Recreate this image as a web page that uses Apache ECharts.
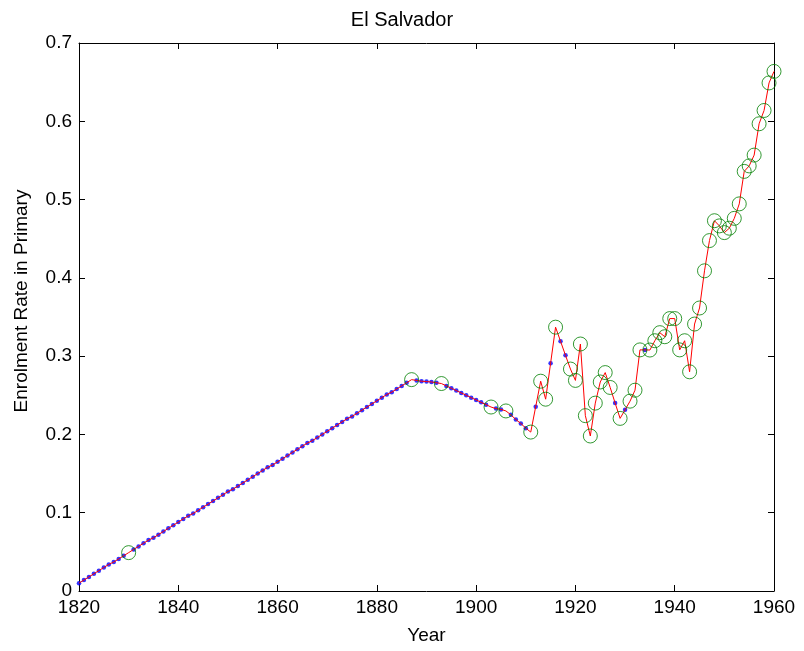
<!DOCTYPE html>
<html>
<head>
<meta charset="utf-8">
<script src="https://cdn.jsdelivr.net/npm/echarts@6/dist/echarts.min.js"></script>
<style>
html,body{margin:0;padding:0;background:#fff;}
#chart{width:804px;height:651px;}
</style>
</head>
<body>
<div id="chart"></div>
<script>
// Observed years (green circles)
var obsYears = [1830,1887,1893,1903,1906,1911,1913,1914,1916,1919,1920,1921,1922,1923,1924,1925,1926,1927,1929,1931,1932,1933,
  1935,1936,1937,1938,1939,1940,1941,1942,1943,1944,1945,1946,1947,1948,1949,1950,1951,1952,1953,1954,1955,1956,1957,1958,1959,1960];
var obsValues = [0.049,0.270,0.265,0.235,0.230,0.203,0.268,0.245,0.337,0.2835,0.269,0.3155,0.224,0.198,0.240,0.267,0.279,0.260,0.2205,0.2425,0.2565,0.308,
  0.3078,0.3197,0.330,0.3248,0.348,0.348,0.308,0.3197,0.280,0.341,0.3615,0.409,0.4476,0.473,0.4664,0.4578,0.4634,0.476,0.4945,0.536,0.543,0.5568,0.5968,0.6138,0.649,0.6637];

// Filled-in years (blue dots)
var fillYears = [1820,1821,1822,1823,1824,1825,1826,1827,1828,1829,
  1831,1832,1833,1834,1835,1836,1837,1838,1839,1840,1841,1842,1843,1844,1845,1846,1847,1848,1849,1850,
  1851,1852,1853,1854,1855,1856,1857,1858,1859,1860,1861,1862,1863,1864,1865,1866,1867,1868,1869,1870,
  1871,1872,1873,1874,1875,1876,1877,1878,1879,1880,1881,1882,1883,1884,1885,1886,
  1888,1889,1890,1891,1892,
  1894,1895,1896,1897,1898,1899,1900,1901,1902,
  1904,1905,1907,1908,1909,1910,1912,1915,1917,1918,1928,1930,1934];
var fillValues = [0.010,0.014,0.018,0.022,0.026,0.030,0.034,0.037,0.041,0.045,
  0.053,0.057,0.061,0.065,0.068,0.072,0.076,0.080,0.084,0.088,0.092,0.096,0.099,0.103,0.107,0.111,0.115,0.119,0.123,0.127,
  0.130,0.134,0.138,0.142,0.146,0.150,0.154,0.158,0.161,0.165,0.169,0.173,0.177,0.181,0.185,0.189,0.192,0.196,0.200,0.204,
  0.208,0.212,0.216,0.220,0.223,0.227,0.231,0.235,0.239,0.243,0.247,0.251,0.254,0.258,0.262,0.266,
  0.269,0.268,0.2675,0.267,0.266,
  0.262,0.259,0.256,0.253,0.250,0.247,0.244,0.241,0.238,
  0.233,0.232,0.225,0.219,0.214,0.208,0.2355,0.291,0.319,0.301,0.240,0.2315,0.308];

var xTicks = [1820,1840,1860,1880,1900,1920,1940,1960];
var yTicks = [0,0.1,0.2,0.3,0.4,0.5,0.6,0.7];

var titleText = 'El Salvador';
var xName = 'Year';
var yName = 'Enrolment Rate in Primary';

var obsData = obsYears.map(function(y,i){return [y, obsValues[i]];});
var fillData = fillYears.map(function(y,i){return [y, fillValues[i]];});
var allData = obsData.concat(fillData).sort(function(a,b){return a[0]-b[0];});

var FONT = '"Liberation Sans", Arial, Helvetica, sans-serif';
var FS = 19;
var chart = echarts.init(document.getElementById('chart'), null, {renderer:'canvas'});

function axisCommon(showLabel){
  return {
    axisLine:{show:true, onZero:false, lineStyle:{color:'#000', width:1}},
    axisTick:{show:true, inside:true, length:6, lineStyle:{color:'#000', width:1}},
    splitLine:{show:false},
    axisLabel:{show:showLabel, color:'#000', fontFamily:FONT, fontSize:FS, margin:7}
  };
}

var xBottom = Object.assign(axisCommon(true), {
  type:'value', position:'bottom', min:xTicks[0], max:xTicks[xTicks.length-1], interval:20,
  name:xName, nameLocation:'middle', nameGap:35,
  nameTextStyle:{color:'#000', fontFamily:FONT, fontSize:FS},
  axisLabel:{show:true, color:'#000', fontFamily:FONT, fontSize:FS, margin:7,
    formatter:function(v){return String(v);}}
});
var xTop = Object.assign(axisCommon(false), {
  type:'value', position:'top', min:xTicks[0], max:xTicks[xTicks.length-1], interval:20
});
var yLeft = Object.assign(axisCommon(true), {
  type:'value', position:'left', min:yTicks[0], max:yTicks[yTicks.length-1], interval:0.1,
  axisLabel:{show:true, color:'#000', fontFamily:FONT, fontSize:FS, margin:7,
    formatter:function(v){return String(Math.round(v*10)/10);}}
});
var yRight = Object.assign(axisCommon(false), {
  type:'value', position:'right', min:yTicks[0], max:yTicks[yTicks.length-1], interval:0.1
});

chart.setOption({
  animation:false,
  backgroundColor:'#fff',
  title:{text:titleText, left:397, top:5, textAlign:'center',
    textStyle:{color:'#000', fontFamily:FONT, fontSize:20, fontWeight:'normal'}},
  grid:{left:79, right:30, top:43, bottom:60, containLabel:false},
  xAxis:[xBottom, xTop],
  yAxis:[yLeft, yRight],
  graphic:[{
    type:'text', x:22, y:301, rotation:Math.PI/2,
    style:{text:yName, fill:'#000', font:'19px ' + FONT, textAlign:'center', textVerticalAlign:'middle'}
  }],
  series:[
    {type:'scatter', xAxisIndex:0, yAxisIndex:0, data:fillData, symbol:'circle', symbolSize:4.5,
      itemStyle:{color:'#0000ff'}, z:2},
    {type:'line', xAxisIndex:0, yAxisIndex:0, data:allData, showSymbol:false, symbol:'none',
      lineStyle:{color:'#ff0000', width:1}, z:3},
    {type:'scatter', xAxisIndex:0, yAxisIndex:0, data:obsData, symbol:'circle', symbolSize:14,
      itemStyle:{color:'rgba(0,0,0,0)', borderColor:'#008000', borderWidth:1}, z:4}
  ]
});
</script>
</body>
</html>
